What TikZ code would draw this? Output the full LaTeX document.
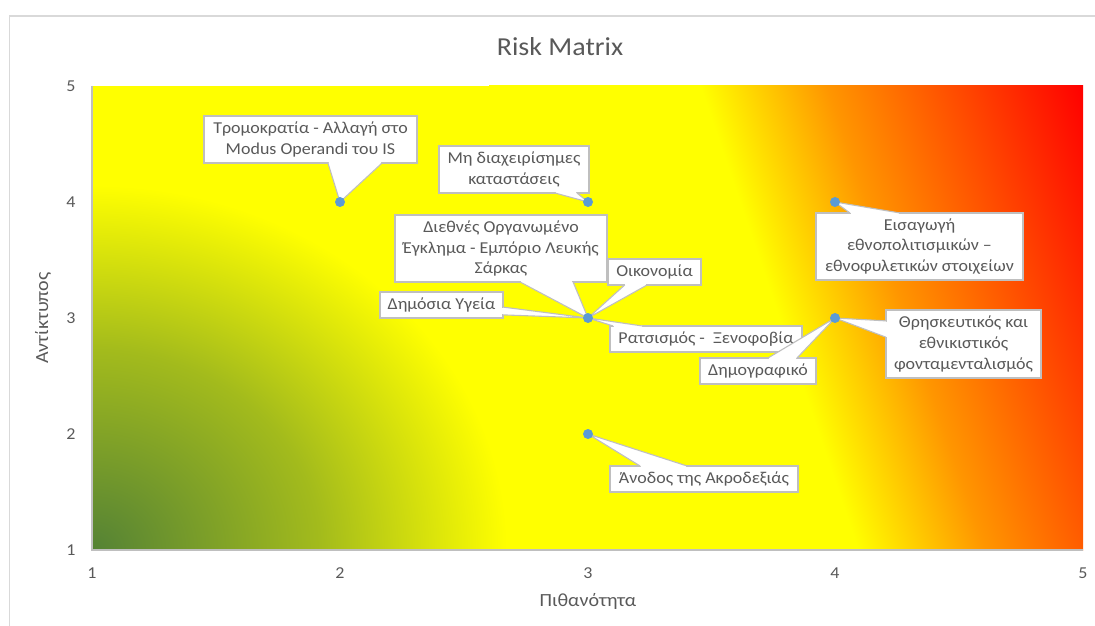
\documentclass[tikz,border=0pt]{standalone}
\usepackage{fontspec}
\setmainfont{Carlito}[FakeStretch=1.08]
\usetikzlibrary{calc}
\definecolor{txtgray}{HTML}{595959}
\definecolor{boxgray}{HTML}{BFBFBF}
\definecolor{framegray}{HTML}{D9D9D9}
\definecolor{dotblue}{HTML}{5B9BD5}
\definecolor{dkgreen}{HTML}{548235}
\definecolor{olive}{RGB}{163,187,28}
\definecolor{pureyellow}{RGB}{255,255,0}
\definecolor{midorange}{RGB}{255,150,0}
\definecolor{purered}{RGB}{255,0,0}
\pgfdeclarehorizontalshading{redsh}{1400bp}{color(0bp)=(pureyellow); color(200bp)=(pureyellow); color(320bp)=(midorange); color(563bp)=(purered); color(900bp)=(purered)}
\pgfdeclareradialshading{greensh}{\pgfpoint{0bp}{0bp}}{color(0bp)=(dkgreen); color(55bp)=(olive); color(100bp)=(pureyellow)}
\tikzset{
  lbl/.style={draw=boxgray, fill=white, line width=1.1bp, inner sep=0pt, outer sep=0pt,
    align=center, text=txtgray, font=\fontsize{16.7}{20.7}\selectfont},
  dotm/.style={circle, fill=dotblue, inner sep=0pt, minimum size=10bp},
  ticklbl/.style={text=txtgray, font=\fontsize{16.7}{20}\selectfont, inner sep=0pt},
  axttl/.style={text=txtgray, font=\fontsize{18.6}{22}\selectfont, inner sep=0pt},
}
\newcommand\callout[6]{%
  \path (#1.#2) -- (#1.#3) coordinate[pos=#4] (#1-a) coordinate[pos=#5] (#1-b);
  \fill[white] (#1-a) -- (#6) -- (#1-b) -- cycle;
  \draw[white, line width=1.8bp, shorten <=0.7bp, shorten >=0.7bp] (#1-a) -- (#1-b);
  \draw[boxgray, line width=1.1bp] (#1-a) -- (#6) -- (#1-b);
}
\begin{document}
\begin{tikzpicture}[x=1bp, y=-1bp]
\useasboundingbox (0,0) rectangle (1095,626);
% chart frame
\draw[framegray, line width=1.5bp] (9.5,626) -- (9.5,16) -- (1095,16);
% title
\node[text=txtgray, font=\fontsize{26}{30}\selectfont, inner sep=0pt] (title) at (560,47) {Risk Matrix};
% plot area background
\begin{scope}
  \clip (92,86) rectangle (1083,550);
  \fill[pureyellow] (92,86) rectangle (1083,550);
  \node[inner sep=0pt, outer sep=0pt, rotate=18.8] (redbg) at (936.75,5.5) {\pgfuseshading{redsh}};
  \node[inner sep=0pt, outer sep=0pt, xscale=4.15, yscale=3.65] (greenbg) at (92,550) {\pgfuseshading{greensh}};
\end{scope}
\draw[boxgray, line width=1.2bp] (92,86) -- (92,550) -- (1083,550);
% tick labels
\foreach \v/\py in {5/86,4/202,3/318,2/434,1/550}
  \node[ticklbl] (yt\v) at (71,\py) {\v};
\foreach \v/\px in {1/92,2/340,3/588,4/835,5/1083}
  \node[ticklbl] (xt\v) at (\px,573) {\v};
% axis titles
\node[axttl] (xtitle) at (588,601) {Πιθανότητα};
\node[axttl, rotate=90] (ytitle) at (43,318) {Αντίκτυπος};
% data point positions
\coordinate (p24) at (340,202);
\coordinate (p34) at (588,202);
\coordinate (p33) at (588,318);
\coordinate (p32) at (588,434);
\coordinate (p44) at (835,202);
\coordinate (p43) at (835,318);
% labels with callouts
\node[lbl, minimum width=213bp, minimum height=47bp] (t1) at (310.5,139.5) {Τρομοκρατία - Αλλαγή στο\\Modus Operandi του IS};
\callout{t1}{south west}{south east}{0.582}{0.836}{p24}
\node[lbl, minimum width=150bp, minimum height=47bp] (t2) at (514,169.5) {Μη διαχειρίσημες\\καταστάσεις};
\callout{t2}{south west}{south east}{0.773}{0.92}{p34}
\node[lbl, minimum width=212bp, minimum height=67bp] (t3) at (501,248.5) {Διεθνές Οργανωμένο\\Έγκλημα - Εμπόριο Λευκής\\Σάρκας};
\callout{t3}{south west}{south east}{0.59}{0.84}{p33}
\node[lbl, minimum width=93bp, minimum height=26bp] (t4) at (654.5,272) {Οικονομία};
\callout{t4}{south west}{south east}{0.18}{0.42}{p33}
\node[lbl, minimum width=123bp, minimum height=26bp] (t5) at (441.5,305) {Δημόσια Υγεία};
\callout{t5}{north east}{south east}{0.58}{0.88}{p33}
\node[lbl, minimum width=192bp, minimum height=26bp] (t6) at (706,339) {Ρατσισμός -\ \ Ξενοφοβία};
\callout{t6}{north west}{north east}{0.016}{0.17}{p33}
\node[lbl, minimum width=116bp, minimum height=26bp] (t7) at (758,371) {Δημογραφικό};
\callout{t7}{north west}{north east}{0.586}{0.836}{p43}
\node[lbl, minimum width=188bp, minimum height=26bp] (t8) at (704,479) {Άνοδος της Ακροδεξιάς};
\callout{t8}{north west}{north east}{0.16}{0.41}{p32}
\node[lbl, minimum width=207bp, minimum height=67bp] (t9) at (919.5,246.5) {Εισαγωγή\\εθνοπολιτισμικών –\\εθνοφυλετικών στοιχείων};
\callout{t9}{north west}{north east}{0.164}{0.406}{p44}
\node[lbl, minimum width=155bp, minimum height=68bp] (t10) at (963.5,344) {Θρησκευτικός και\\εθνικιστικός\\φονταμενταλισμός};
\callout{t10}{north west}{south west}{0.16}{0.40}{p43}
% data markers
\foreach \p in {p24,p34,p33,p32,p44,p43}
  \node[dotm] (d\p) at (\p) {};
\end{tikzpicture}
\end{document}
